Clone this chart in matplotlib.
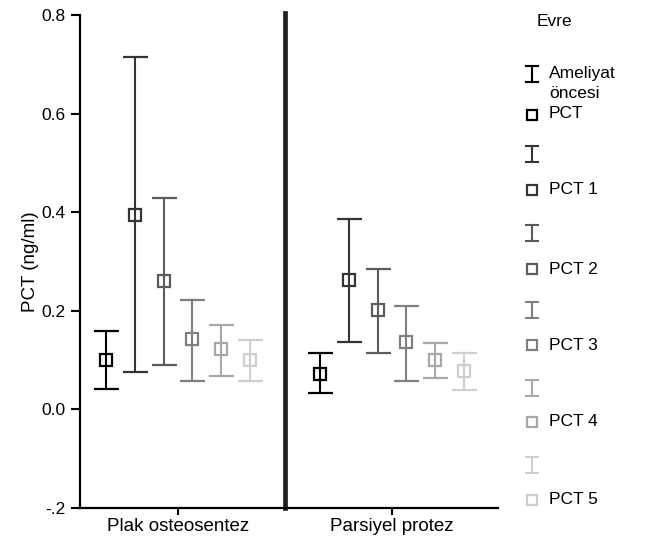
import numpy as np
import matplotlib
matplotlib.use("Agg")
import matplotlib.pyplot as plt

plt.rcParams['font.family'] = ['Liberation Sans', 'DejaVu Sans']

groups = ["Plak osteosentez", "Parsiyel protez"]
stages = ["Ameliyat\nöncesi\nPCT", "PCT 1", "PCT 2", "PCT 3", "PCT 4", "PCT 5"]
colors = ["#000000", "#353535", "#5c5c5c", "#808080", "#a8a8a8", "#cfcfcf"]

# mean and 95% CI per stage, one row per group
means = [[0.101, 0.395, 0.261, 0.143, 0.123, 0.101],
         [0.072, 0.262, 0.202, 0.137, 0.101, 0.077]]
upper = [[0.158, 0.715, 0.428, 0.221, 0.172, 0.140],
         [0.114, 0.387, 0.285, 0.209, 0.135, 0.114]]
lower = [[0.042, 0.075, 0.091, 0.058, 0.068, 0.057],
         [0.033, 0.137, 0.115, 0.058, 0.063, 0.040]]

yticks = [-0.2, 0.0, 0.2, 0.4, 0.6, 0.8]
ytick_labels = ["-.2", "0.0", "0.2", "0.4", "0.6", "0.8"]

fig = plt.figure(figsize=(6.48, 5.38), dpi=100)
ax = fig.add_axes([0.1235, 0.0558, 0.645, 0.9164])

step = 0.134
for g in range(len(groups)):
    for i in range(len(stages)):
        x = g + (i - 2.5) * step
        m = means[g][i]
        err = [[m - lower[g][i]], [upper[g][i] - m]]
        ax.errorbar([x], [m], yerr=err, fmt='s', color=colors[i],
                    ecolor=colors[i], elinewidth=1.5, capsize=9, capthick=1.5,
                    ms=8.5, mew=1.6, mfc='none', mec=colors[i], zorder=3)

# separator between the two groups
ax.axvline(0.5, color="#222222", lw=3.4, ymax=1.004, clip_on=False)

ax.set_xlim(-0.458, 1.495)
ax.set_ylim(-0.2, 0.8)
ax.set_xticks([0, 1])
ax.set_xticklabels(groups, fontsize=13.5)
ax.set_yticks(yticks)
ax.set_yticklabels(ytick_labels, fontsize=12.5)
ax.set_ylabel("PCT (ng/ml)", fontsize=13.5, labelpad=2)

for s in ["top", "right"]:
    ax.spines[s].set_visible(False)
for s in ["left", "bottom"]:
    ax.spines[s].set_linewidth(1.6)
ax.tick_params(axis='y', length=6.5, width=1.5, pad=4)
ax.tick_params(axis='x', length=5, width=1.5, pad=2)

# legend drawn by hand: an "I" glyph above a square for each stage
lax = fig.add_axes([0, 0, 1, 1])
lax.set_xlim(0, 648)
lax.set_ylim(538, 0)
lax.axis('off')
lax.text(537, 22, "Evre", fontsize=12.5, va='center', ha='left')

bar_y = [74, 154, 233, 310, 388, 465]
sq_y = [115, 190, 269, 345, 422, 500]
gx = 532
for i in range(len(stages)):
    c = colors[i]
    y = bar_y[i]
    lax.plot([gx, gx], [y - 8, y + 8], color=c, lw=1.5)
    lax.plot([gx - 6, gx + 6], [y - 8, y - 8], color=c, lw=1.5)
    lax.plot([gx - 6, gx + 6], [y + 8, y + 8], color=c, lw=1.5)
    lax.plot([gx], [sq_y[i]], marker='s', ms=7, mfc='none', mec=c, mew=1.6)
    if i == 0:
        lax.text(549, (72 + 115) / 2, stages[i], fontsize=12.5, va='center', ha='left',
                 linespacing=1.45)
    else:
        lax.text(549, sq_y[i], stages[i], fontsize=12.5, va='center', ha='left')

fig.savefig("out.png", dpi=100)
